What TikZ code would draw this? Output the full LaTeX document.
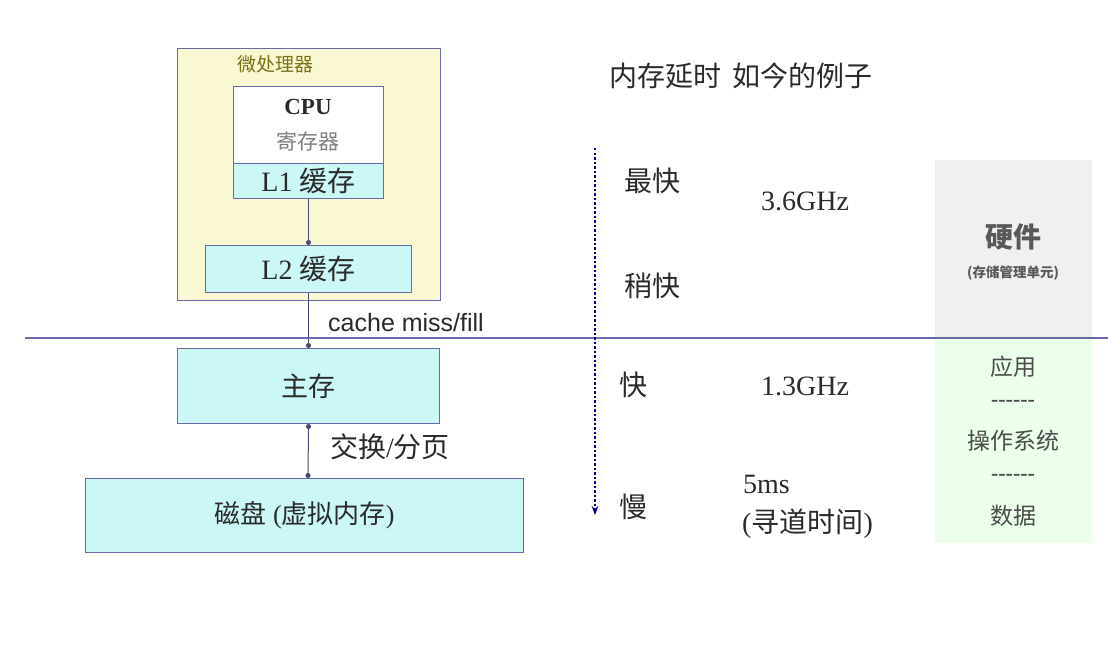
\documentclass[tikz,border=0pt]{standalone}
\usepackage{fontspec}
\setmainfont{Liberation Serif}
\newfontfamily\cjk{Noto Sans CJK SC}
\newfontfamily\lsans{Liberation Sans}
\usetikzlibrary{arrows.meta}
\definecolor{edge}{HTML}{6A6AA8}
\definecolor{cyanf}{HTML}{CCF7F7}
\definecolor{yel}{HTML}{FAF8D2}
\definecolor{txt}{HTML}{2A2A2A}
\tikzset{
 boxs/.style={draw=edge,line width=1pt,inner sep=0pt},
 lbl/.style={text=txt,font=\fontsize{28}{30}\selectfont,inner sep=0pt},
 conn/.style={draw=edge!70!black,line width=1pt},
}
\begin{document}
\begin{tikzpicture}[x=1pt,y=-1pt]
\useasboundingbox (0,0) rectangle (1108,650);
\fill[white] (0,0) rectangle (1108,650);
% right panels
\fill[gray!12] (935,160) rectangle (1092,338);
\fill[green!8] (935,338) rectangle (1092,543);
% left boxes
\node[boxs,fill=yel,minimum width=263,minimum height=252,anchor=north west] (mp) at (177,48) {};
\node[text=olive!80!black,font=\cjk\fontsize{19}{20}\selectfont,inner sep=0pt] (mpl) at (275,64) {微处理器};
\node[boxs,fill=white,minimum width=150,minimum height=77,anchor=north west] (cpu) at (233,86) {};
\node[lbl,font=\bfseries\fontsize{23}{24}\selectfont] (cput) at (308,107) {CPU};
\node[lbl,text=gray,font=\cjk\fontsize{21}{22}\selectfont] (reg) at (308,141) {寄存器};
\node[boxs,fill=cyanf,minimum width=150,minimum height=35,anchor=north west] (l1) at (233,163) {};
\node[lbl] at (l1.center) {L1 {\cjk 缓存}};
\node[boxs,fill=cyanf,minimum width=206,minimum height=47,anchor=north west] (l2) at (205,245) {};
\node[lbl] at (l2.center) {L2 {\cjk 缓存}};
\node[boxs,fill=cyanf,minimum width=262,minimum height=75,anchor=north west] (mm) at (177,348) {};
\node[lbl,font=\cjk\fontsize{27}{28}\selectfont] at (mm.center) {主存};
\node[boxs,fill=cyanf,minimum width=438,minimum height=74,anchor=north west] (disk) at (85,478) {};
\node[lbl,font=\fontsize{26}{28}\selectfont] at (disk.center) {{\cjk 磁盘} ({\cjk 虚拟内存})};
% connectors
\coordinate (dtop) at (308,478);
\draw[conn,-{Circle[length=5pt]}] (l1.south) -- (l2.north);
\draw[conn,-{Circle[length=5pt]}] (l2.south) -- (mm.north);
\draw[conn,{Circle[length=5pt]}-{Circle[length=5pt]}] (mm.south) -- (dtop);
\node[lbl,font=\lsans\fontsize{25}{26}\selectfont,anchor=west] (cm) at (328,323) {cache miss/fill};
\node[lbl,anchor=west] (sw) at (330,447) {{\cjk 交换}/{\cjk 分页}};
% horizontal divider
\coordinate (hl) at (25,338); \coordinate (hr) at (1108,338);
\draw[draw=edge,line width=1.5pt] (hl) -- (hr);
% speed axis
\coordinate (at) at (595,148); \coordinate (ab) at (595,515);
\draw[blue!60!black,line width=2.5pt,dotted,-{Stealth[length=9pt]}] (at) -- (ab);
\node[lbl,font=\cjk\fontsize{28}{30}\selectfont] (hd) at (741,76) {内存延时\hspace{12pt}如今的例子};
\node[lbl,font=\cjk\fontsize{28}{30}\selectfont] (s1) at (652,181) {最快};
\node[lbl,font=\cjk\fontsize{28}{30}\selectfont] (s2) at (652,286) {稍快};
\node[lbl,font=\cjk\fontsize{28}{30}\selectfont] (s3) at (633,385) {快};
\node[lbl,font=\cjk\fontsize{28}{30}\selectfont] (s4) at (633,507) {慢};
\node[lbl] (e1) at (805,201) {3.6GHz};
\node[lbl] (e2) at (805,386) {1.3GHz};
\node[lbl,anchor=west] (e3) at (743,484) {5ms};
\node[lbl,anchor=west] (e4) at (742,524) {({\cjk 寻道时间})};
% right texts
\node[lbl,text=gray!70!black,font=\cjk\bfseries\fontsize{28}{30}\selectfont] (hw) at (1013,237) {硬件};
\node[lbl,text=gray!70!black,font=\cjk\bfseries\fontsize{13.5}{14}\selectfont] (mmu) at (1013,273) {(存储管理单元)};
\node[lbl,text=gray!60!black,font=\cjk\fontsize{23}{24}\selectfont] (r1) at (1013,367) {应用};
\node[lbl,text=gray!60!black,font=\bfseries\fontsize{22}{22}\selectfont] (r2) at (1013,403) {{-}{-}{-}{-}{-}{-}};
\node[lbl,text=gray!60!black,font=\cjk\fontsize{23}{24}\selectfont] (r3) at (1013,441) {操作系统};
\node[lbl,text=gray!60!black,font=\bfseries\fontsize{22}{22}\selectfont] (r4) at (1013,477) {{-}{-}{-}{-}{-}{-}};
\node[lbl,text=gray!60!black,font=\cjk\fontsize{23}{24}\selectfont] (r5) at (1013,516) {数据};
\end{tikzpicture}
\end{document}
